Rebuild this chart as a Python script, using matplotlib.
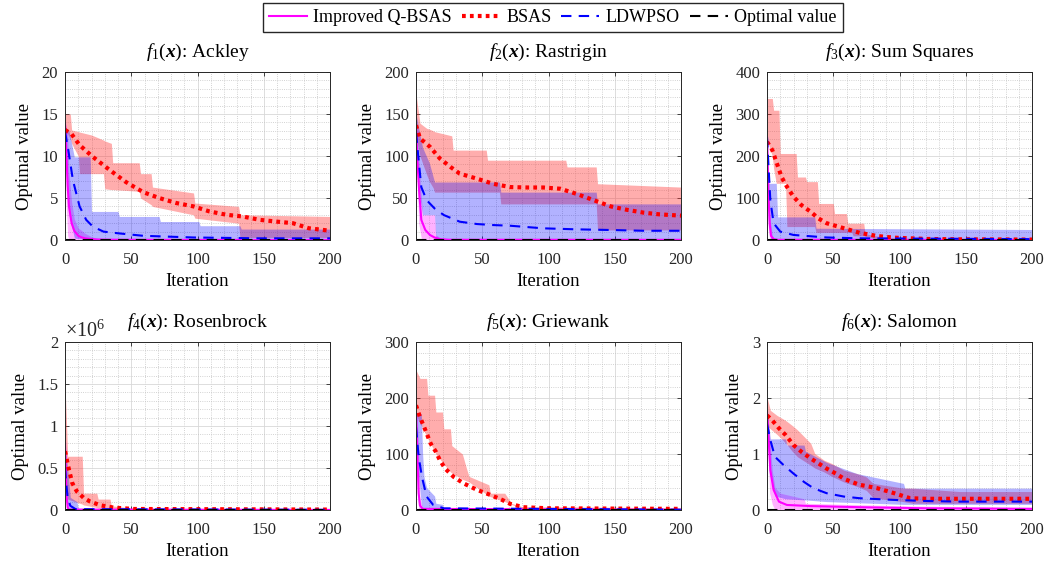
import numpy as np
import matplotlib
matplotlib.use('Agg')
import matplotlib.pyplot as plt
from matplotlib.ticker import AutoMinorLocator, MultipleLocator, FuncFormatter

plt.rcParams['font.family'] = ['Liberation Serif', 'DejaVu Serif']
plt.rcParams['mathtext.fontset'] = 'custom'
plt.rcParams['mathtext.rm'] = 'Liberation Serif'
plt.rcParams['mathtext.it'] = 'Liberation Serif:italic'
plt.rcParams['mathtext.bf'] = 'Liberation Serif:bold'
plt.rcParams['mathtext.bfit'] = 'Liberation Serif:italic:bold'

LEGEND = ['Improved Q-BSAS', 'BSAS', 'LDWPSO', 'Optimal value']
TITLES = [r'$f_1(\boldsymbol{x})$: Ackley', r'$f_2(\boldsymbol{x})$: Rastrigin',
          r'$f_3(\boldsymbol{x})$: Sum Squares', r'$f_4(\boldsymbol{x})$: Rosenbrock',
          r'$f_5(\boldsymbol{x})$: Griewank', r'$f_6(\boldsymbol{x})$: Salomon']
YMAX = [20, 200, 400, 2e6, 300, 3]
YSTEP = [5, 50, 100, 0.5e6, 100, 1]

# ---- f1 Ackley ----
F1_Q_X = [0, 1, 2, 3, 5, 7, 10, 12, 15, 20, 25, 30, 50, 100, 200]
F1_Q_M = [13.9, 10.5, 6.5, 4.0, 2.0, 1.1, 0.5, 0.35, 0.2, 0.1, 0.06, 0.04, 0.02, 0.01, 0.01]
F1_Q_BX = [0, 1, 2, 3, 5, 7, 10, 12, 15, 20, 25, 30, 200]
F1_Q_LO = [12.0, 4.0, 0.5, 0.1, 0.02, 0, 0, 0, 0, 0, 0, 0, 0]
F1_Q_HI = [14.0, 13.5, 12.5, 8.0, 4.5, 2.5, 1.4, 1.2, 0.8, 0.4, 0.15, 0.05, 0.03]
F1_B_X = [0, 5, 11, 21, 34, 46, 59, 71, 84, 97, 109, 122, 134, 147, 159, 172, 184, 200]
F1_B_M = [13.1, 12.6, 11.3, 9.9, 8.3, 6.9, 5.7, 5.0, 4.4, 4.0, 3.4, 3.0, 2.8, 2.4, 2.2, 2.0, 1.4, 1.1]
F1_B_BX = [0, 4, 5, 10, 11, 20, 29, 30, 35, 36, 56, 57, 65, 66, 97, 98, 131, 132, 150, 200]
F1_B_LO = [13.3, 12.0, 11.5, 10.0, 7.9, 7.9, 7.9, 6.1, 6.0, 6.0, 5.8, 5.0, 4.2, 4.0, 3.0, 2.6, 2.0, 0.3, 0.3, 0.3]
F1_B_HI = [15.0, 15.0, 13.1, 12.9, 12.85, 12.5, 11.9, 11.8, 11.5, 9.2, 9.2, 7.9, 7.9, 6.3, 5.6, 4.4, 4.0, 3.0, 2.95, 2.8]
F1_L_X = [0, 2.5, 6, 11, 16, 21, 29, 40, 59, 97, 147, 200]
F1_L_M = [12.9, 10.7, 7.1, 4.0, 2.4, 1.6, 1.0, 0.8, 0.5, 0.3, 0.2, 0.2]
F1_L_BX = [0, 3, 7, 8, 19, 20, 40, 41, 71, 72, 101, 102, 132, 133, 200]
F1_L_LO = [10.0, 3.0, 0.3, 0.2, 0.05, 0.05, 0, 0, 0, 0, 0, 0, 0, 0, 0]
F1_L_HI = [13.5, 13.0, 9.9, 9.9, 9.9, 3.4, 3.4, 2.8, 2.8, 2.2, 2.2, 1.7, 1.7, 1.3, 1.3]

# ---- f2 Rastrigin ----
F2_Q_X = [0, 1, 2.5, 4, 7, 10.5, 14, 18, 25, 200]
F2_Q_M = [137, 95, 55, 24, 12, 6, 3, 1, 0.3, 0.2]
F2_Q_BX = [0, 2, 4, 5, 14, 15, 20, 200]
F2_Q_LO = [125, 20, 2, 0, 0, 0, 0, 0]
F2_Q_HI = [140, 100, 50, 30, 30, 6, 1, 0.5]
F2_B_X = [0, 3, 10.5, 18, 26, 33, 46, 58, 71, 84, 96, 109, 121, 134, 147, 159, 172, 184, 200]
F2_B_M = [136.6, 121, 111, 97, 87, 79, 73, 67, 63, 62.5, 62.5, 61, 55, 47.5, 40, 36, 32.5, 30.5, 29]
F2_B_BX = [0, 3, 8, 10, 13, 14, 27, 28, 53, 54, 63, 64, 113, 114, 136, 137, 200]
F2_B_LO = [123, 100, 78, 70, 62, 57, 57, 57, 57, 57, 57, 43, 43, 43, 43, 12, 12]
F2_B_HI = [174, 139, 133, 132, 130, 129, 124, 107, 107, 95, 95, 95, 95, 87, 87, 67, 63]
F2_L_X = [0, 2, 4, 8, 14, 21, 33, 46, 58, 71, 96, 121, 147, 172, 200]
F2_L_M = [128, 95, 63, 47.5, 37.6, 29.7, 21.8, 19, 17.8, 17, 13.9, 12.7, 11.9, 11, 11]
F2_L_BX = [0, 3, 5, 10, 14, 15, 63, 64, 136, 137, 200]
F2_L_LO = [110, 50, 30, 30, 30, 0, 0, 0, 0, 0, 0]
F2_L_HI = [150, 125, 110, 92, 69, 69, 69, 57, 57, 43, 43]

# ---- f3 Sum Squares ----
F3_Q_X = [0, 1, 2, 3, 5, 8, 200]
F3_Q_M = [245, 120, 40, 10, 2, 0.5, 0.2]
F3_Q_BX = [0, 1, 2, 4, 6, 200]
F3_Q_LO = [230, 30, 2, 0, 0, 0]
F3_Q_HI = [250, 200, 60, 10, 1, 0.5]
F3_B_X = [0, 4, 7.5, 11, 15, 20, 26, 33, 39, 45, 58, 70, 83, 96, 121, 146, 200]
F3_B_M = [234, 214, 182, 150, 127, 103, 83, 67, 51, 40, 28, 17, 9.5, 5.5, 2.4, 1.6, 1.0]
F3_B_BX = [0, 4, 5, 7, 9, 10, 14, 15, 22, 23, 29, 30, 36, 37, 38, 39, 50, 51, 60, 61, 64, 65, 73, 74, 85, 100, 200]
F3_B_LO = [240, 200, 170, 135, 135, 135, 135, 32, 32, 32, 32, 32, 32, 18, 18, 18, 18, 18, 18, 18, 18, 10, 10, 8, 3, 1, 0]
F3_B_HI = [337, 337, 309, 309, 309, 206, 206, 206, 206, 150, 150, 139, 139, 139, 139, 87, 87, 63, 63, 40, 40, 40, 40, 15, 8, 3, 1]
F3_L_X = [0, 1.3, 2.5, 5, 10, 20, 45, 70, 200]
F3_L_M = [245, 166, 95, 40, 20, 12, 6, 4, 2]
F3_L_BX = [0, 1, 3, 7, 8, 36, 37, 200]
F3_L_LO = [200, 50, 0, 0, 0, 0, 0, 0]
F3_L_HI = [250, 135, 135, 135, 55, 55, 28, 25]

# ---- f4 Rosenbrock ----
F4_Q_X = [0, 1, 2, 3, 200]
F4_Q_M = [8.0e5, 2.0e5, 3e4, 5e3, 1e3]
F4_Q_BX = [0, 1, 2, 3, 200]
F4_Q_LO = [6e5, 5e4, 0, 0, 0]
F4_Q_HI = [8.0e5, 5e5, 1e5, 1e4, 2e3]
F4_B_X = [0, 3, 5.5, 9, 14, 19, 27, 37, 52, 200]
F4_B_M = [7.0e5, 4.8e5, 3.2e5, 2.2e5, 1.46e5, 1.0e5, 5.5e4, 2.8e4, 1.2e4, 5e3]
F4_B_BX = [0, 1, 2, 13, 14, 24, 25, 34, 35, 46, 60, 200]
F4_B_LO = [4.8e5, 2.5e5, 1.3e5, 7e4, 6e4, 3e4, 2.5e4, 1.5e4, 1e4, 5e3, 2e3, 1e3]
F4_B_HI = [1.48e6, 1.1e6, 6.4e5, 6.4e5, 2.0e5, 2.0e5, 1.3e5, 1.3e5, 5e4, 3e4, 1.5e4, 1.0e4]
F4_L_X = [0, 1, 2, 4, 8, 200]
F4_L_M = [5e5, 3e5, 1.5e5, 5e4, 1e4, 2e3]
F4_L_BX = [0, 2, 4, 9, 10, 200]
F4_L_LO = [3e5, 5e4, 0, 0, 0, 0]
F4_L_HI = [7.5e5, 5e5, 1.5e5, 1e5, 2e4, 5e3]

# ---- f5 Griewank ----
F5_Q_X = [0, 1, 2, 3, 5, 200]
F5_Q_M = [170, 100, 30, 8, 2, 0.3]
F5_Q_BX = [0, 1, 2, 3, 5, 200]
F5_Q_LO = [150, 30, 2, 0, 0, 0]
F5_Q_HI = [175, 170, 100, 20, 4, 0.5]
F5_B_X = [0, 3, 7, 11, 15, 18, 22, 28.5, 36, 46, 56, 65, 71, 81, 100, 200]
F5_B_M = [187, 166, 143, 119, 104, 89, 74, 59, 47.5, 36, 27, 18, 11, 5, 3, 2]
F5_B_BX = [0, 3, 8, 9, 14, 15, 20, 21, 26, 27, 35, 38, 40, 55, 56, 67, 72, 80, 200]
F5_B_LO = [170, 155, 132, 127, 105, 100, 85, 82, 68, 66, 55, 52, 50, 25, 24, 15, 10, 3, 1]
F5_B_HI = [250, 235, 235, 205, 205, 175, 175, 145, 145, 115, 100, 75, 60, 45, 30, 30, 12, 6, 4]
F5_L_X = [0, 2, 4.5, 8, 13, 21, 200]
F5_L_M = [148, 95, 59, 24, 9, 3, 0.5]
F5_L_BX = [0, 2, 4, 5, 6, 8, 14, 15, 20, 21, 25, 30, 200]
F5_L_LO = [130, 60, 10, 3, 0, 0, 0, 0, 0, 0, 0, 0, 0]
F5_L_HI = [175, 173, 172, 100, 60, 40, 25, 12, 10, 4, 3, 1, 1]

# ---- f6 Salomon ----
F6_Q_X = [0, 1.3, 2.5, 5, 9, 15, 33, 70, 121, 200]
F6_Q_M = [1.75, 1.25, 0.71, 0.36, 0.15, 0.09, 0.07, 0.05, 0.03, 0.02]
F6_Q_BX = [0, 2, 4, 6, 10, 28, 29, 60, 110, 200]
F6_Q_LO = [1.5, 0.3, 0.1, 0, 0, 0, 0, 0, 0, 0]
F6_Q_HI = [1.8, 1.3, 0.7, 0.4, 0.3, 0.2, 0.12, 0.1, 0.07, 0.05]
F6_B_X = [0, 4, 9, 14, 20, 26, 33, 39, 45, 52, 58, 64, 70, 83, 96, 108, 121, 200]
F6_B_M = [1.69, 1.6, 1.46, 1.34, 1.16, 1.04, 0.92, 0.83, 0.74, 0.65, 0.56, 0.5, 0.45, 0.39, 0.3, 0.21, 0.2, 0.2]
F6_B_BX = [0, 2.5, 7.5, 14, 19, 23, 33, 36, 43, 49, 58, 68, 75, 80, 103, 110, 145, 200]
F6_B_LO = [1.5, 1.45, 1.35, 1.2, 1.05, 0.95, 0.8, 0.75, 0.68, 0.6, 0.5, 0.42, 0.35, 0.22, 0.15, 0.12, 0.12, 0.12]
F6_B_HI = [2.02, 1.78, 1.69, 1.6, 1.51, 1.43, 1.19, 1.01, 0.89, 0.83, 0.71, 0.65, 0.59, 0.475, 0.39, 0.39, 0.33, 0.33]
F6_L_X = [0, 2.5, 6, 12.6, 20, 28, 35, 45, 58, 70, 96, 121, 146, 200]
F6_L_M = [1.54, 1.25, 0.95, 0.8, 0.65, 0.5, 0.39, 0.3, 0.24, 0.21, 0.18, 0.16, 0.15, 0.15]
F6_L_BX = [0, 2.5, 6, 14, 15, 28, 29, 45, 68, 80, 103, 104, 200]
F6_L_LO = [1.3, 0.6, 0.25, 0.2, 0.2, 0.18, 0.18, 0.15, 0.13, 0.12, 0.1, 0.1, 0.1]
F6_L_HI = [1.78, 1.27, 1.27, 1.27, 1.16, 1.16, 1.05, 0.85, 0.65, 0.59, 0.475, 0.39, 0.39]

PANELS = [
    [(F1_Q_X, F1_Q_M, F1_Q_BX, F1_Q_LO, F1_Q_HI), (F1_B_X, F1_B_M, F1_B_BX, F1_B_LO, F1_B_HI), (F1_L_X, F1_L_M, F1_L_BX, F1_L_LO, F1_L_HI)],
    [(F2_Q_X, F2_Q_M, F2_Q_BX, F2_Q_LO, F2_Q_HI), (F2_B_X, F2_B_M, F2_B_BX, F2_B_LO, F2_B_HI), (F2_L_X, F2_L_M, F2_L_BX, F2_L_LO, F2_L_HI)],
    [(F3_Q_X, F3_Q_M, F3_Q_BX, F3_Q_LO, F3_Q_HI), (F3_B_X, F3_B_M, F3_B_BX, F3_B_LO, F3_B_HI), (F3_L_X, F3_L_M, F3_L_BX, F3_L_LO, F3_L_HI)],
    [(F4_Q_X, F4_Q_M, F4_Q_BX, F4_Q_LO, F4_Q_HI), (F4_B_X, F4_B_M, F4_B_BX, F4_B_LO, F4_B_HI), (F4_L_X, F4_L_M, F4_L_BX, F4_L_LO, F4_L_HI)],
    [(F5_Q_X, F5_Q_M, F5_Q_BX, F5_Q_LO, F5_Q_HI), (F5_B_X, F5_B_M, F5_B_BX, F5_B_LO, F5_B_HI), (F5_L_X, F5_L_M, F5_L_BX, F5_L_LO, F5_L_HI)],
    [(F6_Q_X, F6_Q_M, F6_Q_BX, F6_Q_LO, F6_Q_HI), (F6_B_X, F6_B_M, F6_B_BX, F6_B_LO, F6_B_HI), (F6_L_X, F6_L_M, F6_L_BX, F6_L_LO, F6_L_HI)],
]

BAND_COLORS = [('#ff00ff', 0.3), ('#ff3333', 0.4), ('#0000ff', 0.3)]
LINE_STYLES = [
    dict(color='#ff00ff', lw=1.5, ls='-'),
    dict(color='#ff0000', lw=3.0, ls=(0, (0.9, 1.0))),
    dict(color='#0000ff', lw=1.5, ls=(0, (5, 3.5))),
]

fig = plt.figure(figsize=(10.49, 5.70), dpi=100)
lefts = [65, 416, 767]
tops = [72, 342]
W, H = 1049, 570

handles = []
for i in range(6):
    r, c = divmod(i, 3)
    ax = fig.add_axes([lefts[c] / W, 1 - (tops[r] + 168) / H, 265 / W, 168 / H])
    data = PANELS[i]
    for (x, m, bx, lo, hi), (col, a) in zip(data, BAND_COLORS):
        ax.fill_between(bx, lo, hi, color=col, alpha=a, lw=0)
    hs = []
    for (x, m, bx, lo, hi), st in zip(data, LINE_STYLES):
        h, = ax.plot(x, m, **st)
        hs.append(h)
    h, = ax.plot([0, 200], [0, 0], color='k', lw=1.5, ls=(0, (5, 3.5)))
    hs.append(h)
    if i == 0:
        handles = hs

    ax.set_xlim(0, 200)
    ax.set_ylim(0, YMAX[i])
    ax.xaxis.set_major_locator(MultipleLocator(50))
    ax.yaxis.set_major_locator(MultipleLocator(YSTEP[i]))
    ax.xaxis.set_minor_locator(AutoMinorLocator(5))
    ax.yaxis.set_minor_locator(AutoMinorLocator(5))
    if i == 3:
        ax.yaxis.set_major_formatter(FuncFormatter(lambda v, _: f'{v / 1e6:g}'))
        ax.text(0.0, 1.0, r'$\times10^{6}$', transform=ax.transAxes, fontsize=14.5,
                ha='left', va='bottom', color='#262626')
    else:
        ax.yaxis.set_major_formatter(FuncFormatter(lambda v, _: f'{v:g}'))
    ax.grid(which='major', color='#d8d8d8', lw=0.6, ls='-')
    ax.grid(which='minor', color='#c4c4c4', lw=0.6, ls=':')
    ax.set_axisbelow(True)
    ax.tick_params(which='major', direction='in', length=3, width=0.6,
                   top=True, right=True, labelsize=12, colors='#262626')
    ax.tick_params(axis='x', which='major', pad=9)
    ax.tick_params(axis='y', which='major', pad=5)
    ax.tick_params(which='minor', length=0)
    for s in ax.spines.values():
        s.set_color('#262626')
        s.set_linewidth(0.7)
    ax.set_xlabel('Iteration', fontsize=13.5, labelpad=3)
    ax.set_ylabel('Optimal value', fontsize=13.5, labelpad=6)
    ax.set_title(TITLES[i], fontsize=14, pad=11)

fig.legend(handles, LEGEND, loc='center', bbox_to_anchor=(0.527, 0.969), ncol=4,
           fontsize=13, frameon=True, fancybox=False, edgecolor='#262626',
           handlelength=2.1, columnspacing=0.55, handletextpad=0.35, borderpad=0.35,
           borderaxespad=0, framealpha=1)

fig.savefig('out.png', dpi=100)
